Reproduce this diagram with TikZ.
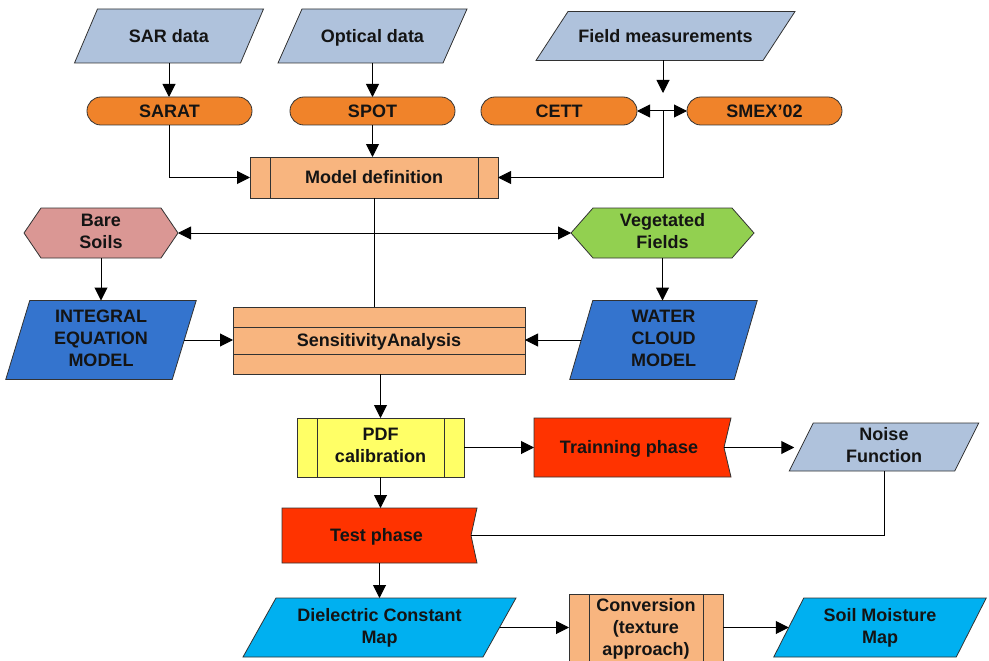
\documentclass[tikz,border=0pt]{standalone}
\usepackage{fontspec}
\setmainfont{Liberation Sans}
\usetikzlibrary{arrows.meta,backgrounds,calc}
\definecolor{grayblue}{RGB}{175,194,220}
\definecolor{orangepill}{RGB}{240,131,42}
\definecolor{peach}{RGB}{248,181,127}
\definecolor{pinkish}{RGB}{218,151,148}
\definecolor{leafgreen}{RGB}{146,208,80}
\definecolor{royalblue}{RGB}{52,116,206}
\definecolor{lemon}{RGB}{255,255,102}
\definecolor{redorange}{RGB}{255,51,0}
\definecolor{skyblue}{RGB}{0,176,240}
\definecolor{edge}{RGB}{50,50,50}
\definecolor{ink}{RGB}{20,20,20}
\newcommand\topstrut{\rule[-3.6pt]{0pt}{19.6pt}}
\tikzset{
  base/.style={font=\fontsize{18}{22}\selectfont\bfseries, text=ink, align=center, inner sep=0pt, outer sep=0pt,
    execute at begin node=\topstrut, execute at end node=\topstrut},
  outline/.style={draw=edge, line width=0.8pt},
  pill/.style={base, outline, fill=orangepill, rounded corners=13.9pt, minimum height=28pt},
  boxed/.style={base, outline, fill=#1},
  arr/.style={line width=1pt, draw=black, -{Triangle[length=13pt,width=13pt]}},
  dblarr/.style={line width=1pt, draw=black, {Triangle[length=13pt,width=13pt]}-{Triangle[length=13pt,width=13pt]}},
  link/.style={line width=1pt, draw=black}
}
\newcommand\parashape[3]{%
  \begin{pgfonlayer}{background}
  \path[outline, fill=#3] ([xshift=-#2/2]#1.south west) -- ([xshift=#2/2]#1.north west) -- ([xshift=#2/2]#1.north east) -- ([xshift=-#2/2]#1.south east) -- cycle;
  \end{pgfonlayer}}
\newcommand\hexshape[3]{%
  \begin{pgfonlayer}{background}
  \path[outline, fill=#3] (#1.west) -- ([xshift=#2]#1.north west) -- ([xshift=-#2]#1.north east) -- (#1.east) -- ([xshift=-#2]#1.south east) -- ([xshift=#2]#1.south west) -- cycle;
  \end{pgfonlayer}}
\newcommand\notchshape[3]{%
  \begin{pgfonlayer}{background}
  \path[outline, fill=#3] (#1.north west) -- (#1.north east) -- ([xshift=-#2]#1.east) -- (#1.south east) -- (#1.south west) -- cycle;
  \end{pgfonlayer}}
\newcommand\sidebars[2]{%
  \draw[outline] ([xshift=#2]#1.north west) -- ([xshift=#2]#1.south west);
  \draw[outline] ([xshift=-#2]#1.north east) -- ([xshift=-#2]#1.south east);}
\begin{document}
\begin{tikzpicture}[x=1pt,y=-1pt]
\useasboundingbox (0,0) rectangle (989,661);
% inputs
\node[base, minimum width=166pt, minimum height=54pt] (sar) at (169,36) {SAR data};
\parashape{sar}{23}{grayblue}
\node[base, minimum width=165pt, minimum height=54pt] (opt) at (372.5,36) {Optical data};
\parashape{opt}{24}{grayblue}
\node[base, minimum width=227pt, minimum height=49pt] (field) at (665.5,36) {Field measurements};
\parashape{field}{32}{grayblue}
% pills
\node[pill, minimum width=165pt] (sarat) at (169.5,111) {SARAT};
\node[pill, minimum width=165pt] (spot) at (372.5,111) {SPOT};
\node[pill, minimum width=156pt] (cett) at (559,111) {CETT};
\node[pill, minimum width=155pt] (smex) at (764.5,111) {SMEX’02};
% model definition
\node[boxed=peach, minimum width=248pt, minimum height=41pt] (model) at (374,177.5) {Model definition};
\sidebars{model}{20}
% hexagons
\node[base, minimum width=154pt, minimum height=50pt] (bare) at (101,233) {Bare\\Soils};
\hexshape{bare}{17}{pinkish}
\node[base, minimum width=183pt, minimum height=50pt] (veg) at (662.5,233) {Vegetated\\Fields};
\hexshape{veg}{22}{leafgreen}
% models
\node[base, minimum width=166.5pt, minimum height=79pt] (iem) at (101,340) {INTEGRAL\\EQUATION\\MODEL};
\parashape{iem}{24}{royalblue}
\node[base, minimum width=164.5pt, minimum height=79pt] (wcm) at (663.5,340) {WATER\\CLOUD\\MODEL};
\parashape{wcm}{23}{royalblue}
\node[boxed=peach, minimum width=292pt, minimum height=67pt] (sens) at (379,340.5) {SensitivityAnalysis};
\draw[outline] ([yshift=-20pt]sens.north west) -- ([yshift=-20pt]sens.north east);
\draw[outline] ([yshift=20pt]sens.south west) -- ([yshift=20pt]sens.south east);
% calibration
\node[boxed=lemon, minimum width=167pt, minimum height=59pt] (pdf) at (380.5,447.5) {PDF\\calibration};
\sidebars{pdf}{20}
\node[base, minimum width=197pt, minimum height=59pt] (train) at (632.5,447.5) {\hspace*{-7pt}Trainning phase};
\notchshape{train}{7}{redorange}
\node[base, minimum width=165.5pt, minimum height=48pt] (noise) at (884,447) {Noise\\Function};
\parashape{noise}{24}{grayblue}
\node[base, minimum width=195pt, minimum height=55pt] (test) at (379.5,535.5) {\hspace*{-6pt}Test phase};
\notchshape{test}{6}{redorange}
% outputs
\node[base, minimum width=240pt, minimum height=59pt] (diel) at (379.5,627.5) {Dielectric Constant\\Map};
\parashape{diel}{33}{skyblue}
\node[boxed=peach, minimum width=154pt, minimum height=70pt] (conv) at (646,629) {Conversion\\(texture\\approach)};
\sidebars{conv}{20}
\node[base, minimum width=182.5pt, minimum height=59pt] (soil) at (880,627.5) {Soil Moisture\\Map};
\parashape{soil}{30}{skyblue}
% connectors
\coordinate (j) at (663,111);
\draw[arr] (sar.south) -- (sar.south |- sarat.north);
\draw[arr] (opt.south) -- (opt.south |- spot.north);
\draw[arr] (field.south -| j) -- ([yshift=18pt]j);
\draw[dblarr] (cett.east) -- (smex.west);
\draw[arr] (j) |- (model.east);
\draw[arr] (sarat.south) |- (model.west);
\draw[arr] (spot.south) -- (spot.south |- model.north);
\draw[link] (model.south) -- (model.south |- sens.north);
\draw[dblarr] (bare.east) -- (veg.west);
\draw[arr] (bare.south) -- (iem.north);
\draw[arr] (veg.south) -- (veg.south |- wcm.north);
\draw[arr] (iem.east) -- (iem.east -| sens.west);
\draw[arr] (wcm.west) -- (wcm.west -| sens.east);
\draw[arr] (sens.south -| pdf.north) -- (pdf.north);
\draw[arr] (pdf.east) -- (train.west);
\draw[arr] ([xshift=-7pt]train.east) -- ([xshift=-7pt]train.east -| noise.west);
\draw[arr] (pdf.south) -- (pdf.south |- test.north);
\draw[link] (noise.south) |- ([xshift=-6pt]test.east);
\draw[arr] (test.south) -- (test.south |- diel.north);
\draw[arr] (diel.east) -- (diel.east -| conv.west);
\draw[arr] (conv.east |- diel.east) -- (diel.east -| soil.west);
\end{tikzpicture}
\end{document}
